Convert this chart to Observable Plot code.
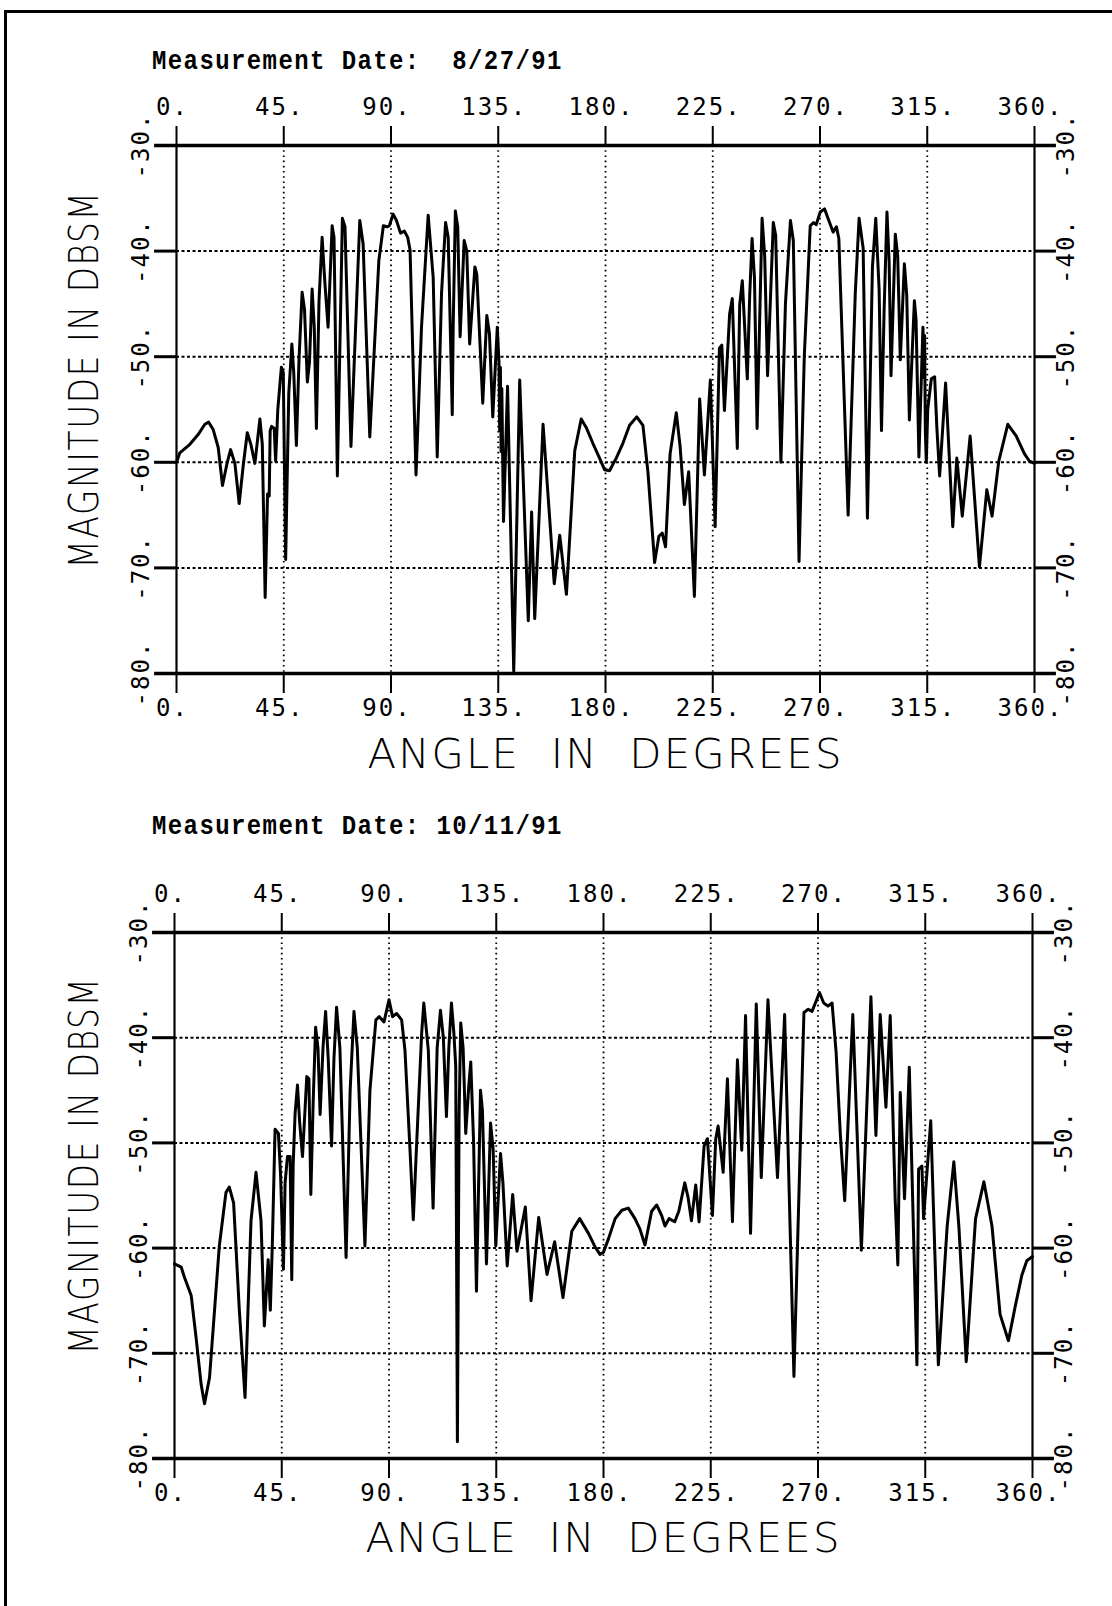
<!DOCTYPE html>
<html>
<head>
<meta charset="utf-8">
<script src="https://cdn.jsdelivr.net/npm/d3@7"></script>
<script src="https://cdn.jsdelivr.net/npm/@observablehq/plot@0.6"></script>
<style>
  body { margin: 0; background: #fff; }
  #page { position: relative; width: 1112px; height: 1606px; overflow: hidden; background: #fff; }
  #border { position: absolute; left: 4px; top: 10px; width: 1140px; height: 1660px; border-left: 3px solid #000; border-top: 3px solid #000; }
  .title { position: absolute; left: 152px; font-family: "Liberation Mono", monospace; font-weight: bold; font-size: 24px; letter-spacing: 1.4px; white-space: pre; color: #000; line-height: 1; transform: scaleY(1.12); transform-origin: left top; }
  .chart { position: absolute; left: 0; }
  svg text { white-space: pre; }
</style>
</head>
<body>
<div id="page">
  <div id="border"></div>
  <div class="title" style="top:49px">Measurement Date:  8/27/91</div>
  <div class="title" style="top:814px">Measurement Date: 10/11/91</div>
  <div class="chart" id="c1" style="top:80px"></div>
  <div class="chart" id="c2" style="top:850px"></div>
</div>
<script>
// ---- tick values and labels ----
const xTicks = [0, 45, 90, 135, 180, 225, 270, 315, 360];
const xGrid = [45, 90, 135, 180, 225, 270, 315];
const yTicks = [-30, -40, -50, -60, -70, -80];
const yGrid = [-40, -50, -60, -70];
const xLabel = "ANGLE  IN  DEGREES";
const yLabel = "MAGNITUDE IN DBSM";

// ---- Measurement 8/27/91 ----
const angles1 = [0,1.4,5.6,9,11.9,13.5,15.4,17.5,19.3,21.3,22.7,24.5,26.3,28,29.7,31.2,32.9,35,36,37.2,38.2,38.9,39.3,39.9,41,41.6,42.5,44,44.8,45.8,47.1,48.4,49.2,50.3,51.4,52.7,53.7,54.9,55.8,56.9,57.8,58.7,59.8,61.1,62.2,63.6,65.3,66.1,67.5,69.6,70.7,73.2,76.9,78.3,81.1,84.9,86.8,88.4,89.3,90.9,92.3,94,95.6,97,98,100.5,102.8,105.6,107.7,109.4,111.2,112.9,114,115.7,116.1,117,118,119,120.7,121.8,123,125.2,126,128.5,130.2,131.3,132.7,134.6,135.3,135.6,135.9,136.2,136.5,137.2,138.9,141.5,144,147.6,149,150.3,153.8,158.5,160.8,163.6,167.1,169.8,171.9,174.7,177.5,179.6,181.7,184.5,187.3,190.1,193.1,195.7,197.8,200.6,202.4,203.8,205.2,207.1,209.7,211.3,213.1,214.9,217.3,219.5,221.5,224,226,227.8,228.8,229.9,232.1,233.2,235.3,236.3,237.4,239.5,240.5,241.5,242.5,243.6,245.7,246.8,248,250.4,251.4,253.6,255.5,257.6,258.8,261.2,263.4,265.9,267.3,268.4,270.1,271.9,273.7,275.5,276.9,277.9,281.8,284.8,286.4,288.1,289.9,292,293.4,294.8,295.8,296.9,298.1,299,299.8,301.6,302.6,303.7,305.4,306.4,307.5,309.6,310.3,311.5,313.2,313.6,313.9,314.2,314.6,315.2,316.7,318.1,319,320.2,322.7,325.7,327.4,329.7,333,336.9,340,342.2,345,348.8,352.3,355.8,357.9,360];
const db1 = [-60,-59.1,-58.3,-57.4,-56.4,-56.2,-56.9,-58.6,-62.2,-60,-58.8,-60.1,-63.9,-60.3,-57.2,-58.3,-60.1,-55.9,-58.3,-72.8,-63,-63.2,-57,-56.6,-56.8,-59.9,-55,-51,-51.5,-69.2,-53.5,-48.8,-51.5,-58.4,-50.3,-43.9,-45.5,-52.4,-50.5,-43.6,-47.2,-56.8,-44.7,-38.7,-42.8,-47.2,-37.6,-38.7,-61.3,-36.9,-37.7,-58.5,-37.1,-39.3,-57.6,-40.9,-37.6,-37.7,-37.6,-36.5,-37.1,-38.3,-38.1,-38.7,-39.9,-61.2,-47.2,-36.6,-42.5,-59.5,-44,-37.3,-38.7,-55.5,-47,-36.2,-37.7,-48.1,-39,-40,-48.8,-41.5,-42.2,-54.4,-46.1,-47.8,-55.7,-47.2,-50.5,-57,-51,-59,-53,-65.6,-52.8,-79.8,-52.2,-75,-64.7,-74.8,-56.4,-71.5,-66.9,-72.5,-58.9,-55.9,-56.7,-58.2,-59.6,-60.7,-60.8,-59.6,-58.2,-56.5,-55.7,-56.5,-60.9,-69.5,-67,-66.7,-68,-59.2,-55.3,-58.5,-64,-60.9,-72.7,-54,-61.2,-52.2,-66.1,-49.2,-48.9,-55.1,-45.9,-44.5,-58.7,-45.1,-42.8,-52.1,-44.2,-38.8,-42.5,-56.8,-36.9,-40.5,-51.8,-37.3,-38.5,-60,-45,-37.1,-39,-69.4,-50,-37.6,-37.3,-37.5,-36.3,-36,-37.1,-38.2,-37.7,-38.8,-65,-44,-36.9,-39.7,-65.3,-41.5,-36.9,-43.6,-57,-45.6,-36.3,-41,-51.8,-38.4,-40.5,-50.3,-41.2,-44.2,-56,-44.7,-46.5,-59.5,-47.2,-52,-48,-57,-60,-55,-52.1,-51.9,-56.6,-61.3,-52.5,-66.1,-59.6,-65.1,-57.5,-69.9,-62.6,-65.1,-59.9,-56.4,-57.5,-59.2,-59.9,-60.1];

// ---- Measurement 10/11/91 ----
const angles2 = [0,2.8,4.2,7,9.1,11.2,12.6,14.7,18.8,21.6,23,24.8,27.2,29.6,32.1,34.2,36.3,37.7,39.3,40.2,41,42.2,43.6,44.5,45.7,46.4,47.4,48.5,49.2,49.8,50.6,51.6,52.5,53.7,54.5,55.5,56.4,57.2,58.2,59.2,60.2,61.1,62.3,63.4,64.5,65.9,66.9,68,69.4,72,73.7,75.3,76.7,79.9,82,84.5,85.9,87.9,90,91.5,93.2,95.3,96.7,98.8,100.2,101.5,103.7,104.6,106.5,108.5,110.2,111.6,112.8,114.1,115.1,116.2,117.2,118,118.7,119.4,120.1,121.1,122.2,123.5,124.3,125.5,126.7,128.4,129.2,130.9,132.6,133.7,134.8,136.8,137.8,139.6,141.9,143.7,147.2,149.6,152.8,156.3,159.5,163,166.7,170,173.7,176.5,178.5,180,182.1,184.9,187.7,190.4,193.2,195.3,197.4,200.2,202.3,204.4,205.8,207.5,209.9,211.6,214.1,215.5,216.9,218.7,220.1,222.2,223.6,225.7,227.1,228.1,230.2,232,234.1,236.2,238,239.6,241.7,244.1,246.2,249,253,256,259.9,264.1,265.9,267.5,268.9,270.6,272.4,274.2,275.9,277.6,279.4,281.2,284.6,288.2,292.2,294.3,296.1,298.5,300.3,302.4,303.5,304.5,306.3,308.3,311.5,312.2,313.6,314.3,317.3,320.5,324.2,327,329.1,332.2,336.1,339.6,343,346.4,349.9,352.7,355.5,357.6,360];
const db2 = [-61.5,-61.8,-62.8,-64.5,-68.6,-73,-74.8,-72.3,-59.8,-54.7,-54.2,-55.7,-65.9,-74.2,-57.4,-52.8,-57.4,-67.4,-61.1,-65.9,-60,-48.7,-49.1,-53,-62,-53.8,-51.3,-51.3,-63,-52,-47.2,-44.5,-48,-51.3,-48,-43.7,-43.9,-54.9,-46,-39,-41,-47.3,-41,-37.5,-42,-50.3,-42,-37.1,-41,-60.9,-45,-37.5,-41,-59.8,-45,-38.3,-38,-38.5,-36.4,-38,-37.7,-38.3,-41.2,-50.6,-57.3,-50.6,-39.6,-36.7,-41.2,-56.2,-41,-37.4,-40,-47.5,-41,-36.7,-39.5,-42.7,-78.4,-47.5,-38.6,-41,-49.1,-44.5,-42.3,-50,-64.1,-45,-46.9,-61.5,-48.1,-50.6,-59.8,-51,-53.8,-61.7,-54.9,-60.3,-56.1,-65,-57.1,-62.5,-59.4,-64.7,-58.4,-57.2,-58.6,-59.9,-60.6,-60.4,-59.1,-57.2,-56.4,-56.2,-57.2,-58.2,-59.7,-56.5,-55.9,-56.9,-57.9,-57.2,-57.5,-56.5,-53.8,-55.2,-57.4,-54,-57.5,-50.3,-49.6,-56.9,-49.6,-48.4,-52.8,-43.9,-57.5,-42.1,-50.7,-37.9,-58.6,-36.8,-53.3,-36.4,-53.3,-37.8,-72.2,-37.6,-37.3,-37.5,-36.7,-35.7,-36.7,-37,-36.7,-41.4,-49.3,-55.5,-37.8,-60.2,-36.1,-49.3,-37.8,-46.6,-37.9,-55.5,-61.6,-45.2,-55.3,-42.8,-71.1,-52.5,-52.2,-57.2,-47.9,-71.1,-57.9,-51.8,-57.9,-70.8,-57.2,-53.7,-57.9,-66.3,-68.8,-65.6,-62.6,-61.2,-60.8];

function chart(angles, db, o) {
  const data = angles.map((a, i) => ({angle: a, db: db[i]}));
  const ext = 9.2; // frame lines overhang (degrees)
  const svg = Plot.plot({
    width: 1112, height: o.height,
    marginTop: o.mt, marginBottom: o.mb, marginLeft: o.ml, marginRight: o.mr,
    style: {background: "transparent", color: "black", fontFamily: "'DejaVu Sans Mono', monospace", fontSize: "24px", letterSpacing: "2px", overflow: "visible"},
    x: {domain: [0, 360], axis: null},
    y: {domain: [-80, -30], axis: null},
    marks: [
      Plot.ruleX(xGrid, {x: d => d, y1: -30, y2: -80, stroke: "black", strokeWidth: 1.8, strokeDasharray: "1.6,3.6"}),
      Plot.ruleY(yGrid, {y: d => d, x1: 0, x2: 360, stroke: "black", strokeWidth: 2, strokeDasharray: "3,2.5"}),
      Plot.ruleY(yGrid, {y: d => d, x1: -ext, x2: 0, stroke: "black", strokeWidth: 3}),
      Plot.ruleY(yGrid, {y: d => d, x1: 360, x2: 360 + ext, stroke: "black", strokeWidth: 3}),
      Plot.ruleX([0, 360], {x: d => d, y1: -30, y2: -80, stroke: "black", strokeWidth: 2.2}),
      Plot.ruleY([-30, -80], {y: d => d, x1: -ext, x2: 360 + ext, stroke: "black", strokeWidth: 3.5}),
      Plot.axisX({ticks: xTicks, anchor: "top", tickSize: 20, tickFormat: () => "", strokeWidth: 2, label: null}),
      Plot.axisX({ticks: xTicks, anchor: "bottom", tickSize: 20, tickFormat: () => "", strokeWidth: 2, label: null}),
      Plot.text(xTicks, {x: d => d, text: d => d + ".", frameAnchor: "top", textAnchor: "middle", dy: -38, dx: -4, lineAnchor: "middle"}),
      Plot.text(xTicks, {x: d => d, text: d => d + ".", frameAnchor: "bottom", textAnchor: "middle", dy: 35, dx: -4, lineAnchor: "middle"}),
      Plot.text(yTicks, {y: d => d, text: d => d + ".", frameAnchor: "left", textAnchor: "middle", dx: -28, rotate: -90, lineAnchor: "bottom"}),
      Plot.text(yTicks, {y: d => d, text: d => d + ".", frameAnchor: "right", textAnchor: "middle", dx: 22, rotate: -90, lineAnchor: "top"}),
      Plot.text([xLabel], {text: d => d, frameAnchor: "bottom", textAnchor: "middle", dy: o.xLabelDy, fontFamily: "DejaVu Sans", fontWeight: 200, fontSize: 40, lineAnchor: "middle"}),
      Plot.text([yLabel], {text: d => d, frameAnchor: "left", textAnchor: "middle", dx: o.yLabelDx, dy: -30, rotate: -90, fontFamily: "DejaVu Sans", fontWeight: 200, fontSize: 40, lineAnchor: "middle"}),
      Plot.line(data, {x: "angle", y: "db", stroke: "black", strokeWidth: 3, strokeLinejoin: "round", strokeLinecap: "round"})
    ]
  });
  svg.querySelectorAll("text").forEach(t => {
    if (t.textContent === xLabel) { t.setAttribute("textLength", 476); t.setAttribute("lengthAdjust", "spacingAndGlyphs"); }
    if (t.textContent === yLabel) { t.setAttribute("textLength", 378); t.setAttribute("lengthAdjust", "spacingAndGlyphs"); }
  });
  return svg;
}

document.getElementById("c1").appendChild(chart(angles1, db1, {height: 720, mt: 65, mb: 127, ml: 176, mr: 78, xLabelDy: 82, yLabelDx: -91}));
document.getElementById("c2").appendChild(chart(angles2, db2, {height: 750, mt: 82, mb: 142, ml: 174, mr: 80, xLabelDy: 81, yLabelDx: -89}));
</script>
</body>
</html>
